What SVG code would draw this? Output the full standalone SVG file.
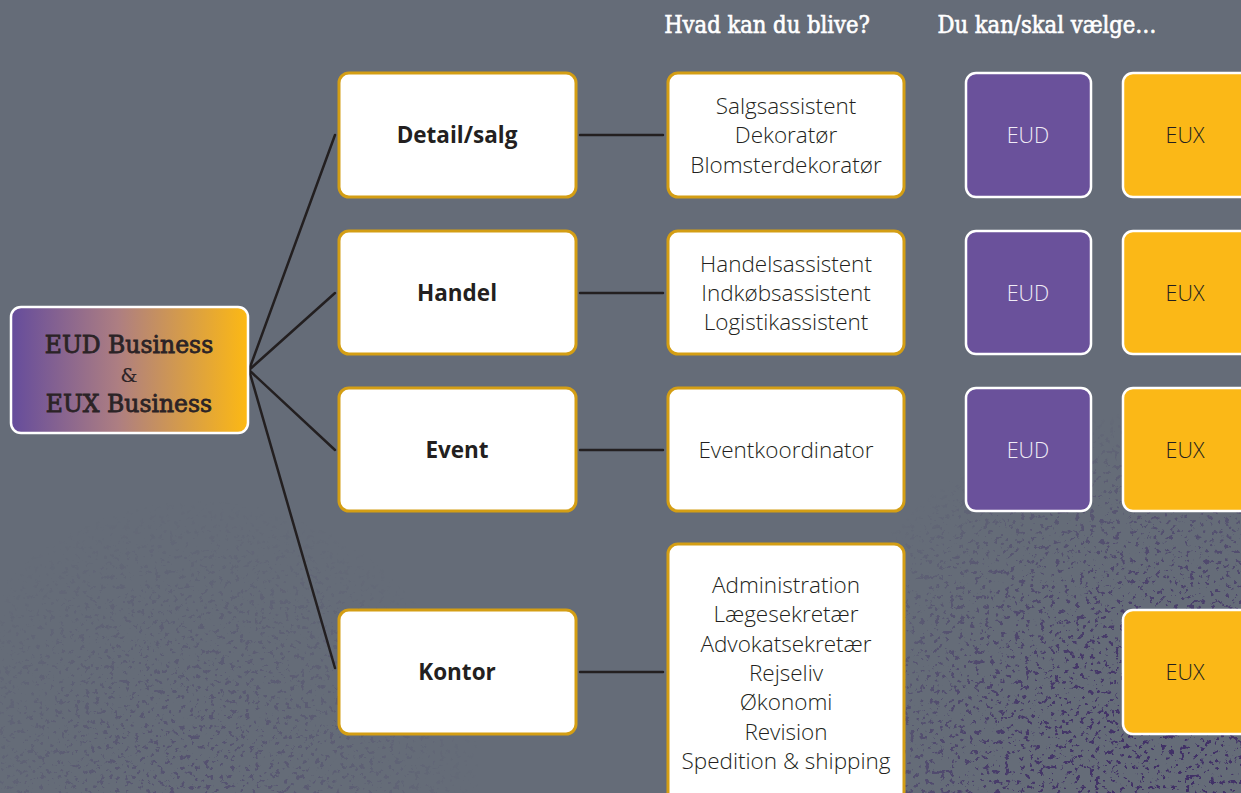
<svg xmlns="http://www.w3.org/2000/svg" width="1241" height="793" viewBox="0 0 1241 793">
<style>
.cat rect{fill:#ffffff;stroke:#d49e14;stroke-width:3}
.lst rect{fill:#ffffff;stroke:#d49e14;stroke-width:3}
.eud rect{fill:#6a519b;stroke:#ffffff;stroke-width:2.5}
.eux rect{fill:#fbb817;stroke:#ffffff;stroke-width:2.5}
.lbl{font-family:"Open Sans","Noto Sans",sans-serif;font-size:22.5px;font-weight:700;fill:#231f20;text-anchor:middle}
.txt{font-family:"Open Sans","Noto Sans",sans-serif;font-size:22.5px;font-weight:300;fill:#231f20;text-anchor:middle}
.eudt{font-family:"Open Sans","Noto Sans",sans-serif;font-size:21.5px;font-weight:300;fill:#f0ecf6;text-anchor:middle}
.euxt{font-family:"Open Sans","Noto Sans",sans-serif;font-size:21.5px;font-weight:300;fill:#231f20;text-anchor:middle}
.hd{font-family:"DejaVu Serif","Liberation Serif",serif;font-stretch:condensed;font-size:23.5px;font-weight:400;fill:#ffffff;stroke:#ffffff;stroke-width:0.6;text-anchor:middle}
.mt{font-family:"DejaVu Serif","Liberation Serif",serif;font-size:23.5px;font-weight:400;fill:#2b2326;stroke:#2b2326;stroke-width:0.8;text-anchor:middle}
#connectors line{stroke:#231f20;stroke-width:2.5;stroke-linecap:round}
</style>
<defs>
<linearGradient id="mg" x1="0" y1="0" x2="1" y2="0">
<stop offset="0" stop-color="#654c9c"/>
<stop offset="0.45" stop-color="#ad7e82"/>
<stop offset="1" stop-color="#fdb913"/>
</linearGradient>
<radialGradient id="rg1" cx="1170" cy="790" r="380" gradientUnits="userSpaceOnUse">
<stop offset="0" stop-color="#fff" stop-opacity="1"/>
<stop offset="0.4" stop-color="#fff" stop-opacity="0.85"/>
<stop offset="1" stop-color="#fff" stop-opacity="0"/>
</radialGradient>
<radialGradient id="rg2" cx="200" cy="780" r="280" gradientUnits="userSpaceOnUse">
<stop offset="0" stop-color="#fff" stop-opacity="0.45"/>
<stop offset="1" stop-color="#fff" stop-opacity="0"/>
</radialGradient>
<filter id="speck" x="0" y="0" width="100%" height="100%" color-interpolation-filters="sRGB">
<feTurbulence type="fractalNoise" baseFrequency="0.2" numOctaves="4" seed="11" result="n"/>
<feColorMatrix in="n" type="matrix" values="0 0 0 0 0.25  0 0 0 0 0.18  0 0 0 0 0.40  14 0 0 0 -8.5" result="c"/>
<feComposite in="c" in2="SourceGraphic" operator="in"/>
</filter>
<mask id="m1"><rect width="1241" height="793" fill="url(#rg1)"/><rect width="1241" height="793" fill="url(#rg2)"/></mask>
</defs>
<rect width="1241" height="793" fill="#656c78"/>
<g mask="url(#m1)"><rect width="1241" height="793" fill="#fff" filter="url(#speck)"/></g>

<text class="hd" x="767" y="33">Hvad kan du blive?</text>
<text class="hd" x="1047" y="33">Du kan/skal vælge…</text>

<g id="connectors">
<line x1="249" y1="370" x2="335" y2="135"/>
<line x1="249" y1="370" x2="335" y2="293"/>
<line x1="249" y1="370" x2="335" y2="450"/>
<line x1="249" y1="370" x2="335" y2="668"/>
<line x1="580" y1="135" x2="663" y2="135"/>
<line x1="580" y1="293" x2="663" y2="293"/>
<line x1="580" y1="450" x2="663" y2="450"/>
<line x1="580" y1="672" x2="663" y2="672"/>
</g>

<g id="main">
<rect x="11" y="307" width="237" height="126" rx="10" fill="url(#mg)" stroke="#ffffff" stroke-width="2.5"/>
<text class="mt" x="129" y="353">EUD Business</text>
<text class="mt" x="129" y="382" style="stroke-width:0.2;font-size:19px">&amp;</text>
<text class="mt" x="129" y="412">EUX Business</text>
</g>

<g id="cat-detail" class="cat"><rect x="339" y="73" width="237" height="124" rx="10"/><text class="lbl" x="457" y="143">Detail/salg</text></g>
<g id="cat-handel" class="cat"><rect x="339" y="231" width="237" height="123" rx="10"/><text class="lbl" x="457" y="301">Handel</text></g>
<g id="cat-event" class="cat"><rect x="339" y="388" width="237" height="123" rx="10"/><text class="lbl" x="457" y="458">Event</text></g>
<g id="cat-kontor" class="cat"><rect x="339" y="610" width="237" height="124" rx="10"/><text class="lbl" x="457" y="680">Kontor</text></g>

<g id="lst-detail" class="lst"><rect x="668" y="73" width="236" height="124" rx="10"/>
<text class="txt" x="786" y="114">Salgsassistent</text><text class="txt" x="786" y="143">Dekoratør</text><text class="txt" x="786" y="173">Blomsterdekoratør</text></g>
<g id="lst-handel" class="lst"><rect x="668" y="231" width="236" height="123" rx="10"/>
<text class="txt" x="786" y="272">Handelsassistent</text><text class="txt" x="786" y="301">Indkøbsassistent</text><text class="txt" x="786" y="330">Logistikassistent</text></g>
<g id="lst-event" class="lst"><rect x="668" y="388" width="236" height="123" rx="10"/>
<text class="txt" x="786" y="458">Eventkoordinator</text></g>
<g id="lst-kontor" class="lst"><rect x="668" y="544" width="236" height="262" rx="10"/>
<text class="txt" x="786" y="593">Administration</text><text class="txt" x="786" y="622">Lægesekretær</text><text class="txt" x="786" y="652">Advokatsekretær</text><text class="txt" x="786" y="681">Rejseliv</text><text class="txt" x="786" y="710">Økonomi</text><text class="txt" x="786" y="740">Revision</text><text class="txt" x="786" y="769">Spedition &amp; shipping</text></g>

<g id="eud-1" class="eud"><rect x="966" y="73" width="125" height="124" rx="10"/><text class="eudt" x="1028" y="143">EUD</text></g>
<g id="eud-2" class="eud"><rect x="966" y="231" width="125" height="123" rx="10"/><text class="eudt" x="1028" y="301">EUD</text></g>
<g id="eud-3" class="eud"><rect x="966" y="388" width="125" height="123" rx="10"/><text class="eudt" x="1028" y="458">EUD</text></g>

<g id="eux-1" class="eux"><rect x="1123" y="73" width="135" height="124" rx="10"/><text class="euxt" x="1185" y="143">EUX</text></g>
<g id="eux-2" class="eux"><rect x="1123" y="231" width="135" height="123" rx="10"/><text class="euxt" x="1185" y="301">EUX</text></g>
<g id="eux-3" class="eux"><rect x="1123" y="388" width="135" height="123" rx="10"/><text class="euxt" x="1185" y="458">EUX</text></g>
<g id="eux-4" class="eux"><rect x="1123" y="610" width="135" height="124" rx="10"/><text class="euxt" x="1185" y="680">EUX</text></g>
</svg>
